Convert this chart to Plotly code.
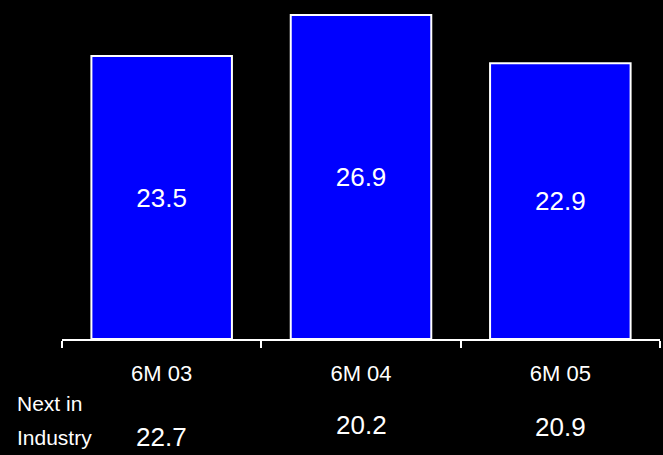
import plotly.graph_objects as go

categories = ["6M 03", "6M 04", "6M 05"]
values = [23.5, 26.9, 22.9]
next_in_industry = [22.7, 20.2, 20.9]
side_label_lines = ["Next in", "Industry"]

# layout-only: vertical pixel offsets of the industry values below the axis
industry_yshift = [-98, -86, -88]

FONT = "Arial, Liberation Sans, sans-serif"

fig = go.Figure()
fig.add_trace(go.Bar(
    x=categories, y=values,
    text=[f"{v:.1f}" for v in values],
    textposition="inside", insidetextanchor="middle",
    textfont=dict(color="white", size=26, family=FONT),
    marker=dict(color="#0000FF", line=dict(color="white", width=2)),
    width=0.705,
    hoverinfo="skip",
))

for c, v, ys in zip(categories, next_in_industry, industry_yshift):
    fig.add_annotation(x=c, y=0, xref="x", yref="paper", yshift=ys,
                       text=f"{v:.1f}", showarrow=False,
                       font=dict(color="white", size=26, family=FONT),
                       xanchor="center", yanchor="middle")

for line, ys in zip(side_label_lines, [-64, -98]):
    fig.add_annotation(x=-0.0786, y=0, xref="paper", yref="paper", yshift=ys,
                       text=line, showarrow=False,
                       font=dict(color="white", size=21, family=FONT),
                       xanchor="left", yanchor="middle")

fig.update_layout(
    width=663, height=455,
    margin=dict(l=62, r=3, t=0, b=116),
    paper_bgcolor="black", plot_bgcolor="black",
    showlegend=False,
    font=dict(family=FONT, color="white"),
    xaxis=dict(
        type="category", range=[-0.5, 2.5],
        showline=True, linecolor="white", linewidth=2,
        ticks="outside", tickson="boundaries", ticklen=7, tickwidth=2, tickcolor="white",
        tickfont=dict(color="white", size=22, family=FONT),
        ticklabelstandoff=14,
        showgrid=False, zeroline=False,
    ),
    yaxis=dict(range=[0, 28.15], visible=False, showgrid=False, zeroline=False),
)

fig.write_html(
    "out.html",
    config={"displayModeBar": False, "staticPlot": True},
    post_script="document.body.style.margin='0';document.body.style.background='black';document.body.style.overflow='hidden';",
)
